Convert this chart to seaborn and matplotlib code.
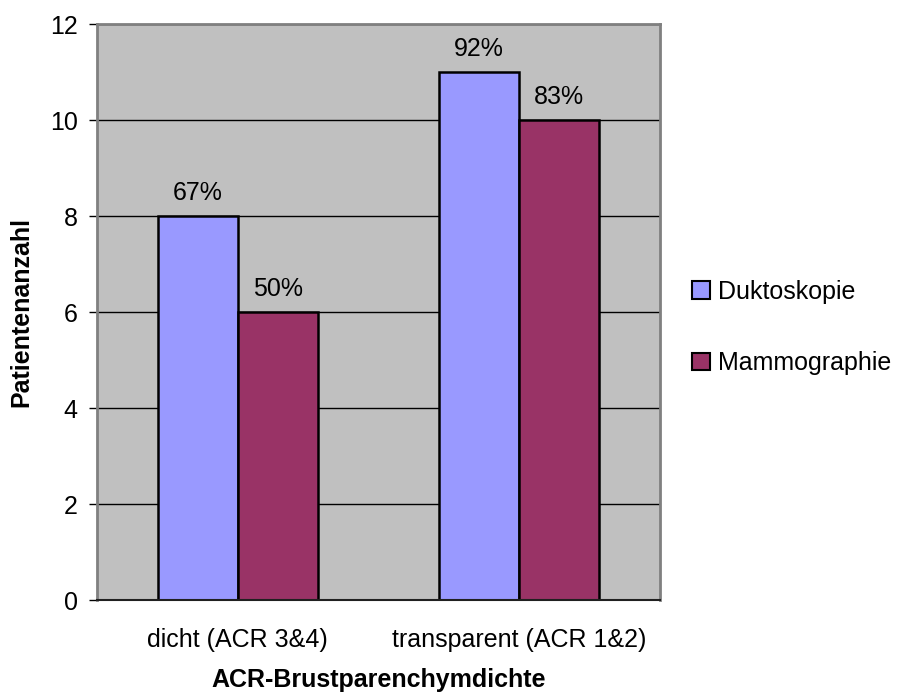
import matplotlib
matplotlib.use("Agg")
import matplotlib.pyplot as plt
import seaborn as sns
import pandas as pd
from matplotlib.patches import Patch

categories = ["dicht (ACR 3&4)", "transparent (ACR 1&2)"]
series = ["Duktoskopie", "Mammographie"]
duktoskopie = [8, 11]
mammographie = [6, 10]
labels_dukto = ["67%", "92%"]
labels_mammo = ["50%", "83%"]
colors = ["#9999FF", "#993366"]

df = pd.DataFrame({
    "Kategorie": categories * 2,
    "Serie": [series[0]] * 2 + [series[1]] * 2,
    "Wert": duktoskopie + mammographie,
})

sns.set_theme(style="white")
plt.rcParams['font.family'] = ['Liberation Sans', 'DejaVu Sans']
plt.rcParams['text.color'] = 'black'
FS = 18

fig = plt.figure(figsize=(9.07, 6.93), dpi=100)
ax = fig.add_axes([97/907, 1-600/693, (660-97)/907, (600-24)/693])
sns.barplot(data=df, x="Kategorie", y="Wert", hue="Serie", palette=colors,
            width=0.57, edgecolor="black", linewidth=1.8, ax=ax,
            legend=False, saturation=1)
ax.set_facecolor("#C0C0C0")
ax.set_xlim(-0.5, 1.5)
ax.set_ylim(0, 12)
ax.set_yticks(range(0, 13, 2))
ax.yaxis.grid(True, color="black", linewidth=1)
ax.set_axisbelow(True)
for s in ["top", "right", "left"]:
    ax.spines[s].set_color("#808080")
    ax.spines[s].set_linewidth(2)
ax.spines["bottom"].set_color("#202020")
ax.spines["bottom"].set_linewidth(1.5)

for cont, labs in zip(ax.containers, [labels_dukto, labels_mammo]):
    ax.bar_label(cont, labels=labs, padding=8, fontsize=FS, color="black")

ax.set_xticks([0, 1])
ax.set_xticklabels(categories, fontsize=FS, color="black")
ax.set_xticks([-0.5, 0.5, 1.5], minor=True)
ax.tick_params(axis="x", which="major", length=0, pad=20)
ax.tick_params(axis="x", which="minor", length=7, width=1, color="#404040", direction="out")
ax.tick_params(axis="y", length=6, width=1, color="black", direction="out",
               labelsize=FS, labelcolor="black", left=True, pad=8)
ax.set_xlabel("ACR-Brustparenchymdichte", fontsize=FS, fontweight="bold",
              labelpad=12, color="black")
ax.set_ylabel("Patientenanzahl", fontsize=FS, fontweight="bold",
              labelpad=12, color="black")

handles = [Patch(facecolor=c, edgecolor="black", linewidth=1.5) for c in colors]
fig.legend(handles, series, loc="center left", bbox_to_anchor=(692/907, 1-327.5/693),
           frameon=False, fontsize=FS, handlelength=0.72, handleheight=0.72,
           handletextpad=0.3, labelspacing=1.9, borderpad=0, borderaxespad=0,
           labelcolor="black")

fig.savefig("out.png", dpi=100, facecolor="white")
